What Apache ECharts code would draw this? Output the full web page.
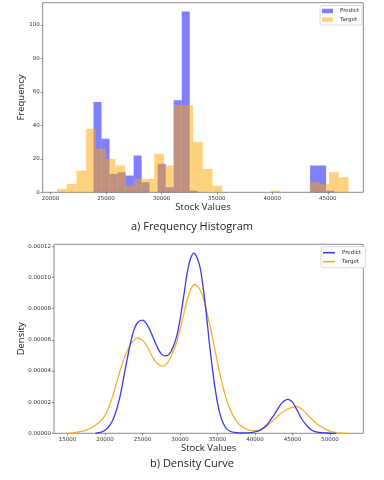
<!DOCTYPE html>
<html><head><meta charset="utf-8">
<script src="https://cdn.jsdelivr.net/npm/echarts@6/dist/echarts.min.js"></script>
<style>html,body{margin:0;padding:0;background:#fff}#c{width:384px;height:480px}</style>
</head><body><div id="c"></div>
<script>
// ---- Histogram data ----
const targetBinStart = 20590, targetBinWidth = 876;
const predictBinStart = 23880, predictBinWidth = 723;
const targetCounts  = [2,5,13,38,26,20,16,4,8,8,23,16,52,52,30,14,4,0,0,0,0,0,1,0,0,0,6,5,12,9];
const predictCounts = [54,32,11,12,10,22,6,0,17,3,55,108,1,0,0,0,0,0,0,0,0,0,0,0,0,0,0,16,16,1];
const histXTicks = [20000,25000,30000,35000,40000,45000];
const histYTicks = [0,20,40,60,80,100];

// ---- Density data (x, density x 1e-5) ----
const predictDensityX = [18700,19500,20000,20500,21000,21500,22000,22500,23000,23500,24000,24500,25050,25500,26000,26500,27000,27500,28100,28600,29100,29600,30000,30500,31000,31400,31850,32300,32700,33000,33450,34000,34650,35300,36000,36600,37500,38500,39500,40300,41000,41600,42300,42900,43600,44400,45000,45600,46200,46900,47600,48300,49500,50800];
const predictDensityY = [0,0.08,0.2,0.42,0.8,1.45,2.35,3.6,4.85,6.0,6.8,7.17,7.26,7.05,6.62,6.05,5.5,5.1,4.97,5.1,5.55,6.3,7.26,8.8,10.4,11.2,11.57,11.25,10.6,9.7,7.95,5.45,3.0,1.3,0.42,0.15,0.04,0.02,0.05,0.12,0.3,0.55,1.0,1.45,1.95,2.18,2.0,1.5,0.95,0.5,0.2,0.08,0.02,0];
const targetDensityX = [15000,16000,16700,17500,18400,19200,19900,20500,21100,21700,22200,22800,23300,23800,24350,24900,25400,25900,26400,27000,27700,28300,28900,29500,30000,30500,31000,31500,32000,32500,33000,33450,34000,34500,35000,35500,36000,36500,37000,37500,38000,38800,39600,40300,41000,41800,42600,43300,44000,44800,45600,46300,47000,47600,48300,49100,49900,50900,51800,52500];
const targetDensityY = [0,0.05,0.1,0.2,0.42,0.7,1.06,1.65,2.5,3.5,4.3,5.1,5.6,5.95,6.13,6.0,5.75,5.3,4.85,4.47,4.31,4.5,5.02,5.75,6.62,7.65,8.65,9.3,9.55,9.35,8.85,8.05,6.9,5.75,4.55,3.45,2.5,1.75,1.2,0.8,0.53,0.28,0.17,0.17,0.27,0.55,0.9,1.2,1.45,1.65,1.72,1.55,1.2,0.9,0.6,0.35,0.15,0.04,0.01,0];
const densXTicks = [15000,20000,25000,30000,35000,40000,45000,50000];
const densYTicks = [0,0.00002,0.00004,0.00006,0.00008,0.00010,0.00012];

const BLUE = '#0000ff', ORANGE = '#ffa500';
const LINE_BLUE = '#3a3ae6', LINE_ORANGE = '#f7b030';
const TICK_FONT = {fontSize: 5.5, color: '#333', fontFamily: 'DejaVu Sans'};
const TITLE_FONT = 'Open Sans';

function bins(start, width, counts) {
  return counts.map((c, i) => [start + i * width, start + (i + 1) * width, c]);
}
function histRender(color) {
  return function (params, api) {
    const p0 = api.coord([api.value(0), api.value(2)]);
    const p1 = api.coord([api.value(1), 0]);
    return {type: 'rect', shape: {x: p0[0], y: p0[1], width: p1[0] - p0[0], height: p1[1] - p0[1]},
            style: {fill: color, opacity: 0.5}};
  };
}
function pairs(xs, ys) { return xs.map((x, i) => [x, ys[i] * 1e-5]); }

function tick(values) {
  return {show: true, length: 2, lineStyle: {color: '#555', width: 0.7}, customValues: values};
}
function label(values, fmt) {
  return Object.assign({customValues: values, margin: 3, formatter: fmt}, TICK_FONT);
}
const nameStyle = {fontSize: 9.5, color: '#222', fontFamily: TITLE_FONT};
const plain = v => String(v);

const chart = echarts.init(document.getElementById('c'), null, {renderer: 'canvas'});
chart.setOption({
  backgroundColor: '#fff',
  animation: false,
  grid: [
    {left: 42.7, top: 2.7, width: 320.6, height: 189.6, show: true, borderColor: '#8a8a8a', borderWidth: 1, backgroundColor: 'transparent'},
    {left: 54, top: 244.3, width: 309.3, height: 189, show: true, borderColor: '#8a8a8a', borderWidth: 1, backgroundColor: 'transparent'}
  ],
  xAxis: [
    {type: 'value', gridIndex: 0, min: 19300, max: 48200, axisLine: {show: false}, splitLine: {show: false},
     axisTick: tick(histXTicks), axisLabel: label(histXTicks, plain),
     name: 'Stock Values', nameLocation: 'middle', nameGap: 10, nameMoveOverlap: false, nameTextStyle: nameStyle},
    {type: 'value', gridIndex: 1, min: 13200, max: 54450, axisLine: {show: false}, splitLine: {show: false},
     axisTick: tick(densXTicks), axisLabel: label(densXTicks, plain),
     name: 'Stock Values', nameLocation: 'middle', nameGap: 10, nameMoveOverlap: false, nameTextStyle: nameStyle}
  ],
  yAxis: [
    {type: 'value', gridIndex: 0, min: 0, max: 113.3, axisLine: {show: false}, splitLine: {show: false},
     axisTick: tick(histYTicks), axisLabel: label(histYTicks, plain),
     name: 'Frequency', nameLocation: 'middle', nameGap: 16, nameMoveOverlap: false, nameTextStyle: nameStyle},
    {type: 'value', gridIndex: 1, min: 0, max: 0.0001213, axisLine: {show: false}, splitLine: {show: false},
     axisTick: tick(densYTicks), axisLabel: label(densYTicks, v => Number(v).toFixed(5)),
     name: 'Density', nameLocation: 'middle', nameGap: 28, nameMoveOverlap: false, nameTextStyle: nameStyle}
  ],
  legend: [
    {orient: 'vertical', left: 320, top: 5.5, itemGap: 2.5, itemWidth: 11, itemHeight: 4.5,
     padding: [2.5, 3, 2.5, 2], borderColor: '#d0d0d0', borderWidth: 0.8, borderRadius: 2, backgroundColor: '#fff',
     textStyle: {fontSize: 5.5, color: '#333', fontFamily: 'DejaVu Sans', padding: [0, 0, 0, 2]},
     data: [{name: 'Predict', icon: 'rect', itemStyle: {color: 'rgba(0,0,255,0.5)'}},
            {name: 'Target', icon: 'rect', itemStyle: {color: 'rgba(255,165,0,0.5)'}}]},
    {orient: 'vertical', left: 321, top: 246.7, itemGap: 3, itemWidth: 12, itemHeight: 1.6,
     padding: [3, 3, 3, 2], borderColor: '#d0d0d0', borderWidth: 0.8, borderRadius: 2, backgroundColor: '#fff',
     textStyle: {fontSize: 5.5, color: '#333', fontFamily: 'DejaVu Sans', padding: [0, 0, 0, 2]},
     data: [{name: 'Predict ', icon: 'rect', itemStyle: {color: LINE_BLUE}},
            {name: 'Target ', icon: 'rect', itemStyle: {color: LINE_ORANGE}}]}
  ],
  series: [
    {type: 'custom', name: 'Predict', xAxisIndex: 0, yAxisIndex: 0, renderItem: histRender(BLUE),
     encode: {x: [0, 1], y: 2}, data: bins(predictBinStart, predictBinWidth, predictCounts), itemStyle: {color: BLUE}},
    {type: 'custom', name: 'Target', xAxisIndex: 0, yAxisIndex: 0, renderItem: histRender(ORANGE),
     encode: {x: [0, 1], y: 2}, data: bins(targetBinStart, targetBinWidth, targetCounts), itemStyle: {color: ORANGE}},
    {type: 'line', name: 'Predict ', xAxisIndex: 1, yAxisIndex: 1, data: pairs(predictDensityX, predictDensityY),
     smooth: 0.3, showSymbol: false, lineStyle: {color: LINE_BLUE, width: 1.3}, itemStyle: {color: LINE_BLUE}, z: 3},
    {type: 'line', name: 'Target ', xAxisIndex: 1, yAxisIndex: 1, data: pairs(targetDensityX, targetDensityY),
     smooth: 0.3, showSymbol: false, lineStyle: {color: LINE_ORANGE, width: 1.3}, itemStyle: {color: LINE_ORANGE}, z: 2}
  ],
  graphic: [
    {type: 'text', left: 'center', top: 221, style: {text: 'a) Frequency Histogram', fontSize: 11, fill: '#222', fontFamily: TITLE_FONT}},
    {type: 'text', left: 'center', top: 458, style: {text: 'b) Density Curve', fontSize: 11, fill: '#222', fontFamily: TITLE_FONT}}
  ]
});
</script></body></html>
